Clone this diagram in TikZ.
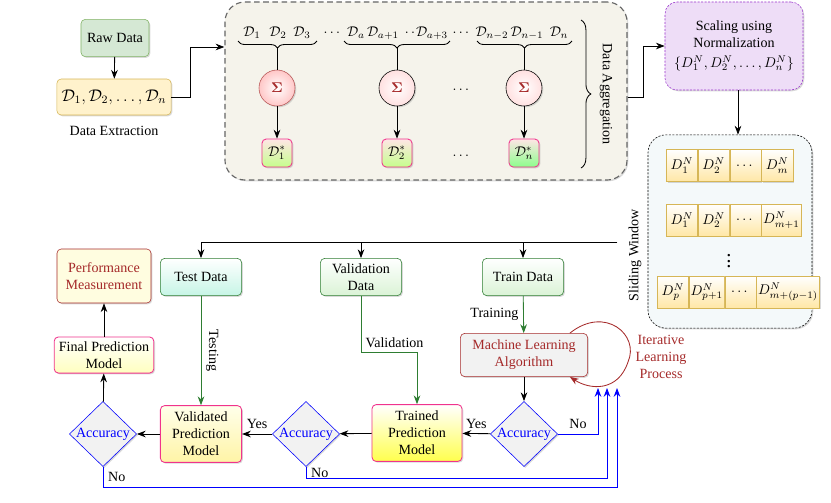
\documentclass[tikz,border=0pt]{standalone}
\usepackage{fontspec}
\setmainfont{Liberation Serif}
\usepackage{amsmath}
\usepackage{tikz}
\usepackage{xcolor}
\usetikzlibrary{arrows.meta,positioning,shapes.geometric,shadows,decorations.pathreplacing}

\definecolor{rawfill}{HTML}{D5E8D4}
\definecolor{rawdraw}{HTML}{82B366}
\definecolor{extfill}{HTML}{FFF2CC}
\definecolor{extdraw}{HTML}{D6B656}
\definecolor{aggfill}{HTML}{F5F3EB}
\definecolor{scalefill}{HTML}{EEDDF7}
\definecolor{scaledraw}{HTML}{9933CC}
\definecolor{slidefill}{HTML}{F4F9FA}
\definecolor{mlred}{HTML}{A52A2A}
\definecolor{mint}{HTML}{C6F5E6}
\definecolor{lgreen}{HTML}{DAF3D6}
\definecolor{modeldraw}{HTML}{F0338C}
\definecolor{dgreen}{HTML}{2E7D32}
\definecolor{cellbot}{HTML}{FFE7A6}

\begin{document}
\begin{tikzpicture}[
x=0.025cm, y=-0.025cm,
node distance=0.5cm,
shdw/.style={drop shadow={shadow xshift=0.9pt,shadow yshift=-0.9pt,opacity=0.3}},
box/.style={
rectangle,
draw,
rounded corners=3pt,
align=center,
shdw
},
arrow/.style={-{Stealth[length=2.2mm]},semithick},
garrow/.style={-{Stealth[length=2.2mm]},semithick,draw=dgreen},
noline/.style={-{Stealth[length=2.2mm]},semithick,draw=blue},
brc/.style={decorate,semithick,decoration={brace,amplitude=5pt}},
sigma/.style={circle,draw,minimum size=0.9cm,inner sep=0pt,shading=radial,inner color=white,outer color=red!12,text=mlred,shdw},
dstar/.style={box,draw=modeldraw,semithick,minimum width=0.75cm,minimum height=0.7cm,inner sep=1pt,top color=red!10,bottom color=green!50!yellow!45},
cell/.style={rectangle,draw=extdraw,top color=white,bottom color=cellbot,minimum width=0.78cm,minimum height=0.8cm,inner sep=1pt,shdw},
datanode/.style={box,draw=dgreen,top color=white,minimum width=2.03cm,minimum height=0.93cm},
model/.style={box,draw=modeldraw,semithick,minimum width=2.03cm,minimum height=1.42cm},
decision/.style={diamond,draw=blue,fill=gray!10,text=blue,minimum width=1.68cm,minimum height=1.63cm,inner sep=0pt,shdw}
]
\useasboundingbox (0,0) rectangle (831,502);

% data extraction
\node[box, draw=rawdraw, fill=rawfill, minimum width=1.7cm, minimum height=0.93cm] (raw) at (115,38) {Raw Data};
\node[box, draw=extdraw, fill=extfill, minimum width=2.45cm, minimum height=0.9cm] (ext) at (114,97) {\large$\mathcal{D}_1,\mathcal{D}_2,\dots,\mathcal{D}_n$};
\node (extlab) at (114,131) {Data Extraction};

% data aggregation
\node[box, draw=black!60, thick, dash pattern=on 4pt off 2.5pt, fill=aggfill, rounded corners=0.5cm, minimum width=10.05cm, minimum height=4.45cm] (agg) at (426,91) {};
\node (d1) at (252,33) {$\mathcal{D}_1$};
\node (d2) at (278,33) {$\mathcal{D}_2$};
\node (d3) at (302,33) {$\mathcal{D}_3$};
\node (dd1) at (333,33) {$\dots$};
\node (da) at (356,33) {$\mathcal{D}_a$};
\node (da1) at (383,33) {$\mathcal{D}_{a+1}$};
\node (dd2) at (410,33) {$.\,.$};
\node (da3) at (432,33) {$\mathcal{D}_{a+3}$};
\node (dd3) at (462,33) {$\dots$};
\node (dn2) at (492,33) {$\mathcal{D}_{n-2}$};
\node (dn1) at (527,33) {$\mathcal{D}_{n-1}$};
\node (dn) at (559,33) {$\mathcal{D}_n$};

\draw[brc, decoration={mirror}] (238,41) -- (317,41);
\draw[brc, decoration={mirror}] (344,41) -- (450,41);
\draw[brc, decoration={mirror}] (477,41) -- (572,41);
\coordinate (b1) at (277,48);
\coordinate (b2) at (397,48);
\coordinate (b3) at (524,48);

\node[sigma, draw=mlred!80, outer color=red!22] (s1) at (277,88) {$\boldsymbol{\Sigma}$};
\node[sigma] (s2) at (397,88) {$\boldsymbol{\Sigma}$};
\node[sigma] (s3) at (524,88) {$\boldsymbol{\Sigma}$};
\node (sd) at (462,90) {$\dots$};

\node[dstar] (o1) at (277,153) {$\mathcal{D}_1^*$};
\node[dstar] (o2) at (397,153) {$\mathcal{D}_2^*$};
\node[dstar, bottom color=green!45] (o3) at (524,153) {$\mathcal{D}_n^*$};
\node (od) at (462,156) {$\dots$};

\draw[semithick] (b1) -- (s1);
\draw[semithick] (b2) -- (s2);
\draw[semithick] (b3) -- (s3);
\draw[arrow] (s1) -- (o1);
\draw[arrow] (s2) -- (o2);
\draw[arrow] (s3) -- (o3);

\draw[brc, decoration={amplitude=7pt}] (581,20) -- (581,168);
\node[rotate=-90] (agglab) at (606,94) {Data Aggregation};

% normalization and sliding window
\node[box, draw=scaledraw, dash pattern=on 1.5pt off 1pt, fill=scalefill, rounded corners=0.3cm, minimum width=3.45cm, minimum height=2.2cm] (scale) at (734,46) {Scaling using\\Normalization\\[2pt]$\{D_1^N,D_2^N,\dots,D_n^N\}$};

\node[box, dash pattern=on 1.5pt off 1pt, fill=slidefill, rounded corners=0.45cm, minimum width=4.1cm, minimum height=4.83cm] (slide) at (730,231.5) {};
\node[rotate=90] (slidelab) at (635,255) {Sliding Window};

\node[cell] (a1) at (682,165.5) {$D_1^N$};
\node[cell, right=0pt of a1] (a2) {$D_2^N$};
\node[cell, right=0pt of a2] (a3) {$\dots$};
\node[cell, right=0pt of a3] (a4) {$D_m^N$};

\node[cell] (b1) at (682,220) {$D_1^N$};
\node[cell, right=0pt of b1] (b2) {$D_2^N$};
\node[cell, right=0pt of b2] (b3) {$\dots$};
\node[cell, right=0pt of b3, minimum width=0.83cm] (b4) {$D_{m+1}^N$};

\node (vd) at (729,257) {\Large$\vdots$};

\node[cell] (c1) at (673,292) {$D_p^N$};
\node[cell, right=0pt of c1] (c2) {$D_{p+1}^N$};
\node[cell, right=0pt of c2] (c3) {$\dots$};
\node[cell, right=0pt of c3, minimum width=1.25cm] (c4) {$D_{m+(p-1)}^N$};

\draw[arrow] (raw) -- (ext);
\draw[arrow] (ext.east) -- ++(19,0) |- ([yshift=1.1cm]agg.west);
\draw[arrow] ([yshift=-0.15cm]agg.east) -- ++(16,0) |- (scale.west);
\draw[arrow] ([xshift=0.1cm]scale.south) -- ([xshift=0.1cm]scale.south |- slide.north);

% split into train, validation, test
\node[datanode, bottom color=mint] (test) at (201,277) {Test Data};
\node[datanode, bottom color=lgreen] (val) at (361,277) {Validation\\Data};
\node[datanode, bottom color=lgreen] (train) at (523,277) {Train Data};
\node[box, draw=mlred, fill=yellow!12, text=mlred, minimum width=2.35cm, minimum height=1.35cm] (perf) at (104,276) {Performance\\Measurement};

\coordinate (split) at (617,242);
\draw[arrow] (split) -| (test);
\draw[arrow] (split) -| (val);
\draw[arrow] (split) -| (train);

% training loop
\node[box, draw=mlred, fill=gray!10, text=mlred, minimum width=3.18cm, minimum height=1.08cm] (ml) at (524,355) {Machine Learning\\Algorithm};
\node[decision] (acc3) at (524,434) {\makebox[0pt]{Accuracy}};
\node[model, top color=white, bottom color=yellow!70, minimum width=2.25cm] (trained) at (417,433) {Trained\\Prediction\\Model};
\node[decision] (acc2) at (306,434) {\makebox[0pt]{Accuracy}};
\node[model, top color=yellow!8, bottom color=orange!25!yellow!35] (valid) at (201,434) {Validated\\Prediction\\Model};
\node[decision] (acc1) at (103,434) {\makebox[0pt]{Accuracy}};
\node[model, top color=white, bottom color=yellow!25, minimum width=2.48cm, minimum height=0.9cm] (final) at (104,355) {Final Prediction\\Model};

\draw[garrow] (train) -- node[left] (trainlab) {Training} (ml);
\draw[garrow] (test) -- node[midway, rotate=-90, anchor=south] (testlab) {Testing} (valid);
\draw[garrow] (val.south) -- ++(0,57) -| node[pos=0.3, above] (vallab) {Validation} (trained.north);

\draw[arrow] (ml) -- (acc3);
\draw[arrow] (acc3) -- node[above] (yes2) {Yes} (trained);
\draw[arrow] (trained) -- (acc2);
\draw[arrow] (acc2) -- node[above] (yes1) {Yes} (valid);
\draw[arrow] (valid) -- (acc1);
\draw[arrow] (acc1) -- (final);
\draw[arrow] (final) -- (perf);

\draw[-{Stealth[length=2.2mm]}, semithick, draw=mlred] ([xshift=-0.45cm]ml.north east) .. controls (605,305) and (640,335) .. (628,362) .. controls (618,392) and (590,390) .. ([xshift=-0.45cm]ml.south east);
\node[text=mlred, align=center] (iterlab) at (661,357) {Iterative\\Learning\\Process};

\coordinate (n1) at (598,388);
\coordinate (n2) at (607,388);
\coordinate (n3) at (617,388);
\draw[noline] (acc3.east) -| node[pos=0.25, above] (no3) {No} (n1);
\draw[noline] (acc2.south) -- ++(0,12) node[midway, right] (no2) {No} -| (n2);
\draw[noline] (acc1.south) -- ++(0,21) node[midway, right] (no1) {No} -| (n3);

\end{tikzpicture}
\end{document}
